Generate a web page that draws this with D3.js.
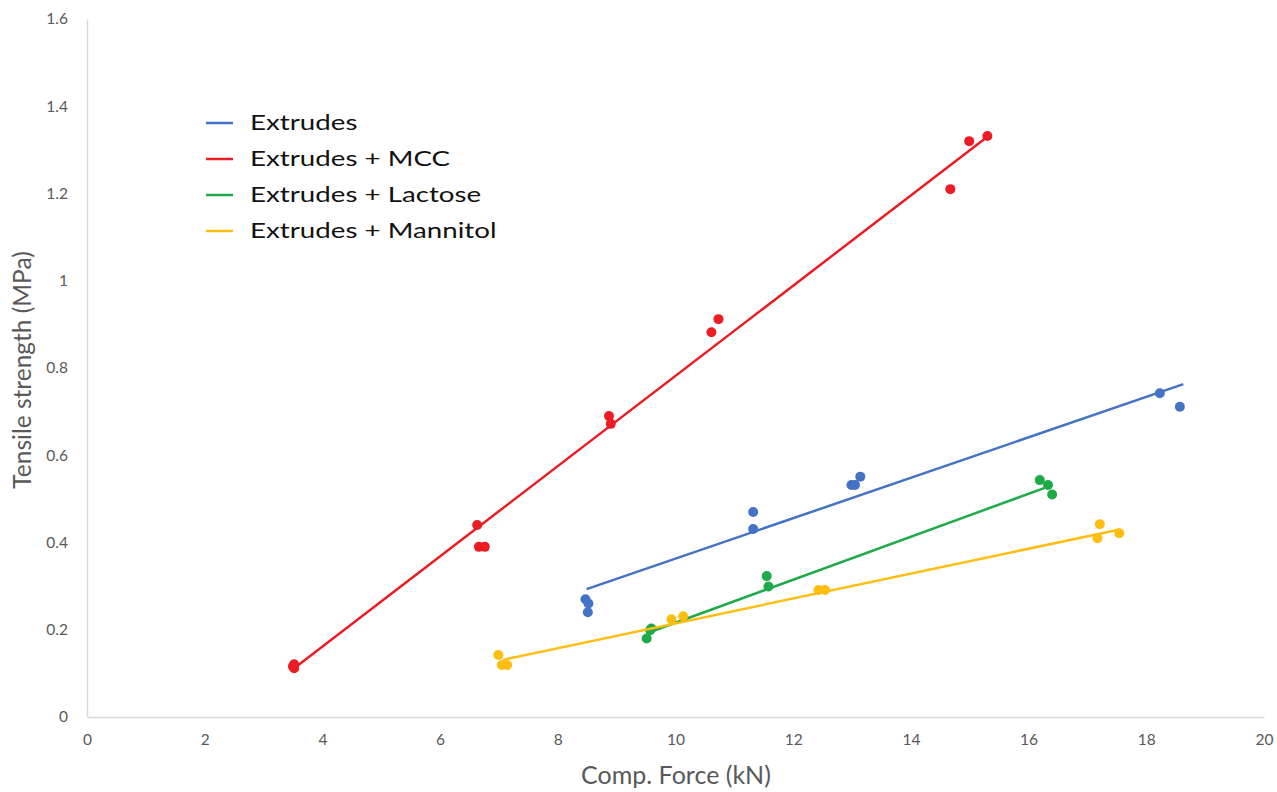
<!DOCTYPE html>
<html><head><meta charset="utf-8">
<script src="https://cdn.jsdelivr.net/npm/d3@7"></script>
<style>body{margin:0;background:#fff}svg{display:block}</style>
</head><body>
<svg id="c" width="1277" height="792"></svg>
<script>
const seriesNames = ["Extrudes", "Extrudes + MCC", "Extrudes + Lactose", "Extrudes + Mannitol"];
const seriesColors = ["#4472C4", "#EC1C24", "#1FAA4A", "#FFBE0F"];
const xTicks = [0,2,4,6,8,10,12,14,16,18,20];
const yTicks = [0,0.2,0.4,0.6,0.8,1,1.2,1.4,1.6];

const extrudesX = [8.47, 8.52, 8.51, 11.32, 11.32, 12.99, 13.05, 13.14, 18.23, 18.57];
const extrudesY = [0.27, 0.26, 0.24, 0.47, 0.431, 0.532, 0.532, 0.551, 0.742, 0.711];
const mccX = [3.52, 3.52, 3.50, 6.63, 6.66, 6.76, 8.87, 8.90, 10.61, 10.73, 14.67, 14.99, 15.30];
const mccY = [0.121, 0.112, 0.116, 0.44, 0.39, 0.39, 0.69, 0.672, 0.882, 0.912, 1.21, 1.32, 1.332];
const lactoseX = [9.51, 9.57, 9.59, 11.55, 11.58, 16.19, 16.33, 16.40];
const lactoseY = [0.180, 0.199, 0.203, 0.323, 0.299, 0.543, 0.532, 0.510];
const mannitolX = [6.99, 7.05, 7.14, 9.93, 10.13, 12.43, 12.54, 17.21, 17.17, 17.54];
const mannitolY = [0.142, 0.119, 0.119, 0.224, 0.231, 0.291, 0.291, 0.442, 0.410, 0.421];

// trend line endpoints [x0, y0, x1, y1]
const extrudesTrend = [8.49, 0.293, 18.63, 0.763];
const mccTrend = [3.52, 0.112, 15.30, 1.33];
const lactoseTrend = [9.51, 0.192, 16.31, 0.527];
const mannitolTrend = [7.07, 0.131, 17.55, 0.43];

const seriesX = [extrudesX, mccX, lactoseX, mannitolX];
const seriesY = [extrudesY, mccY, lactoseY, mannitolY];
const trends = [extrudesTrend, mccTrend, lactoseTrend, mannitolTrend];

const svg = d3.select("#c");
const x = d3.scaleLinear().domain([0,20]).range([87,1264]);
const y = d3.scaleLinear().domain([0,1.6]).range([717,19]);
const gray = "#d9d9d9", txt = "#595959";
const font = "Lato, 'Open Sans', sans-serif";

// axes
const xa = svg.append("g").attr("transform","translate(0,717)")
  .call(d3.axisBottom(x).tickValues(xTicks).tickSize(0).tickPadding(17).tickFormat(d3.format("d")));
const ya = svg.append("g").attr("transform","translate(87,0)")
  .call(d3.axisLeft(y).tickValues(yTicks).tickSize(0).tickPadding(19).tickFormat(d=>String(d)));
[xa,ya].forEach(a=>{
  a.select(".domain").attr("stroke",gray).attr("stroke-width",1.5);
  a.selectAll("text").attr("fill",txt).style("font-family",font).style("font-size","15.5px");
});

// axis titles
svg.append("text").attr("x",676).attr("y",784).attr("text-anchor","middle")
  .attr("fill",txt).style("font-family",font).style("font-size","25px").text("Comp. Force (kN)");
svg.append("text").attr("transform","translate(31,370) rotate(-90)").attr("text-anchor","middle")
  .attr("fill",txt).style("font-family",font).style("font-size","24.5px").text("Tensile strength (MPa)");

// trend lines and points
seriesNames.forEach((n,i)=>{
  const t = trends[i];
  svg.append("line").attr("x1",x(t[0])).attr("y1",y(t[1])).attr("x2",x(t[2])).attr("y2",y(t[3]))
    .attr("stroke",seriesColors[i]).attr("stroke-width",2.5);
  const pts = seriesX[i].map((v,j)=>[v,seriesY[i][j]]);
  svg.append("g").selectAll("circle").data(pts).join("circle")
    .attr("cx",d=>x(d[0])).attr("cy",d=>y(d[1])).attr("r",5).attr("fill",seriesColors[i]);
});

// legend
const lg = svg.append("g");
seriesNames.forEach((n,i)=>{
  const yy = 123 + i*36;
  lg.append("line").attr("x1",206).attr("x2",233).attr("y1",yy).attr("y2",yy)
    .attr("stroke",seriesColors[i]).attr("stroke-width",2.5);
  lg.append("g").attr("transform",`translate(250,${yy+7}) scale(1.32,1)`)
    .append("text").attr("x",0).attr("y",0).attr("fill","#111")
    .style("font-family",font).style("font-size","21px").text(n);
});
</script>
</body></html>
